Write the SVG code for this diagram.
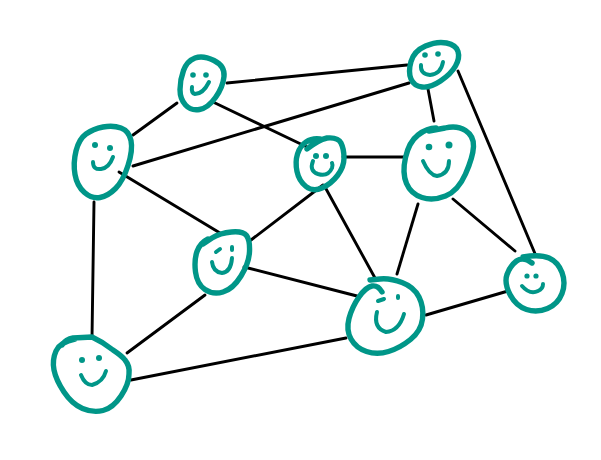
<svg xmlns="http://www.w3.org/2000/svg" width="601" height="460" viewBox="0 0 601 460">
<style>
.o{fill:none;stroke:#009688;stroke-width:5.400;stroke-linecap:round;stroke-linejoin:round}
.s{fill:none;stroke:#009688;stroke-width:4;stroke-linecap:round;stroke-linejoin:round}
.e{fill:#009688}
#connectors line{stroke:#000;stroke-width:2.900;stroke-linecap:round}
</style>
<rect width="601" height="460" fill="#fff"/>
<g id="connectors">
<line x1="177" y1="103" x2="133" y2="135"/>
<line x1="227" y1="83" x2="407" y2="65"/>
<line x1="213" y1="102" x2="307" y2="147"/>
<line x1="133" y1="166" x2="409" y2="83"/>
<line x1="119" y1="172" x2="220" y2="233"/>
<line x1="94" y1="202" x2="92" y2="338"/>
<line x1="343" y1="157" x2="404" y2="157"/>
<line x1="323" y1="185" x2="251" y2="240"/>
<line x1="325" y1="187" x2="375" y2="278"/>
<line x1="428" y1="89" x2="434" y2="121"/>
<line x1="458" y1="71" x2="536" y2="256"/>
<line x1="418" y1="204" x2="397" y2="274"/>
<line x1="453" y1="199" x2="515" y2="251"/>
<line x1="205" y1="295" x2="127" y2="353"/>
<line x1="244" y1="267" x2="357" y2="296"/>
<line x1="131" y1="380" x2="346" y2="338"/>
<line x1="426" y1="315" x2="508" y2="291"/>
</g>
<g id="node-a">
<path class="o" d="M195 58 Q203 55 214 60.500 Q225 66 224 76.500 Q223 87 215.500 97.500 Q208 108 199.500 109.500 Q191 111 185.500 105 Q180 99 180 89.500 Q180 80 183.500 70.500 Q187 61 195 58Z"/>
<circle class="e" cx="193" cy="75" r="2.800"/><circle class="e" cx="206" cy="75" r="2.800"/>
<path class="s" d="M192 87 Q191 93 195 94 Q203 94 209 82"/>
</g>
<g id="node-b">
<path class="o" d="M103 127 Q113 125 121 128 Q129 131 131 140.500 Q133 150 128 165.500 Q123 181 115.500 188.500 Q108 196 100 197.500 Q92 199 84.500 192.500 Q77 186 75 174.500 Q73 163 76 151 Q79 139 86 134 Q93 129 103 127Z"/>
<circle class="e" cx="95" cy="145" r="3"/><circle class="e" cx="110" cy="148" r="3"/>
<path class="s" d="M93 162 Q93 170 101 169 Q109 168 113 157"/>
</g>
<g id="node-c">
<path class="o" d="M307 149 Q318 140 327 138 Q338 137 341 143 Q344 149 344 158 Q344 167 337.500 175.500 Q331 184 322 188 Q313 192 306 186.500 Q299 181 297 171.500 Q295 162 297.500 154 Q300 146 306 142 Q312 138 320 139"/>
<circle class="e" cx="316" cy="156" r="3"/><circle class="e" cx="326" cy="156" r="3"/>
<path class="s" d="M313 161 Q309 171 318 174 Q328 177 332 168 Q333 165 332 163"/>
</g>
<g id="node-d">
<path class="o" d="M425.500 46 Q437 41 446.500 43 Q456 45 458 51.500 Q460 58 455.500 66 Q451 74 440.500 81 Q430 88 422 87 Q414 86 411 79 Q408 72 411 61.500 Q414 51 425.500 46Z"/>
<circle class="e" cx="425" cy="55" r="2.800"/><circle class="e" cx="438" cy="54" r="2.800"/>
<path class="s" d="M421 65 Q420 74 430 75 Q441 74 443 62"/>
</g>
<g id="node-e">
<path class="o" d="M429 131 L445 128 Q457 125 465.500 130.500 Q474 136 473.500 146.500 Q473 157 465.500 174 Q458 191 445.500 196 Q433 201 422 197.500 Q411 194 406.500 183.500 Q402 173 405.500 157.500 Q409 142 418 135 Q427 128 436 128"/>
<circle class="e" cx="429" cy="147" r="3.300"/><circle class="e" cx="449" cy="145" r="3.500"/>
<path class="s" d="M423 161 Q429 175 437 176 Q449 174 449 161"/>
</g>
<g id="node-f">
<path class="o" d="M203 244 L212 238 Q220 233 231.500 232 Q243 231 246.500 235.500 Q250 240 249.500 251.500 Q249 263 241 276 Q233 289 223 292 Q213 295 205 289.500 Q197 284 195.500 272 Q194 260 197 251.500 Q200 243 208 239"/>
<path class="s" d="M216 252 L220 249 M232 247 L232 250"/>
<path class="s" d="M212 262 Q213 272 222 273 Q231 272 232 258"/>
</g>
<g id="node-g">
<path class="o" d="M62 345 Q66 339 73 338 L92 337 Q103 342 113 350 Q122 356 125 360 Q130 366 129 374 Q129 384 121 396 Q113 408 103 410.500 Q93 413 82.500 408.500 Q72 404 64 392 Q56 380 54 370 Q52 360 56 351 Q60 342 75 339"/>
<circle class="e" cx="82" cy="360" r="3"/><circle class="e" cx="99" cy="358" r="3"/>
<path class="s" d="M81 375 Q85 385 92 385 Q103 382 106 371"/>
</g>
<g id="node-h">
<path class="o" d="M370 280 L380 279 Q390 278 402 282.500 Q414 287 419 297 Q424 307 422.500 319 Q421 331 410.500 339.500 Q400 348 388.500 351.500 Q377 355 366.500 351.500 Q356 348 351 339 Q346 330 349 318.500 Q352 307 359 297 Q366 287 372 286 Q378 285 382 292"/>
<path class="s" d="M378 301 L384 299 M398 296 L398 298"/>
<path class="s" d="M377 312 Q373 328 386 332 Q399 331 404 314"/>
</g>
<g id="node-i">
<path class="o" d="M523 257 Q540 254 549 258 Q558 262 562 272.500 Q566 283 562 293.500 Q558 304 547.500 308.500 Q537 313 526.500 309.500 Q516 306 510 294.500 Q504 283 507 274.500 Q510 266 516.500 261 Q523 256 532 263"/>
<circle class="e" cx="527" cy="276" r="2.600"/><circle class="e" cx="536" cy="276" r="2.600"/>
<path class="s" d="M522 286 Q530 295 538 291 Q543 289 543 284"/>
</g>
</svg>
